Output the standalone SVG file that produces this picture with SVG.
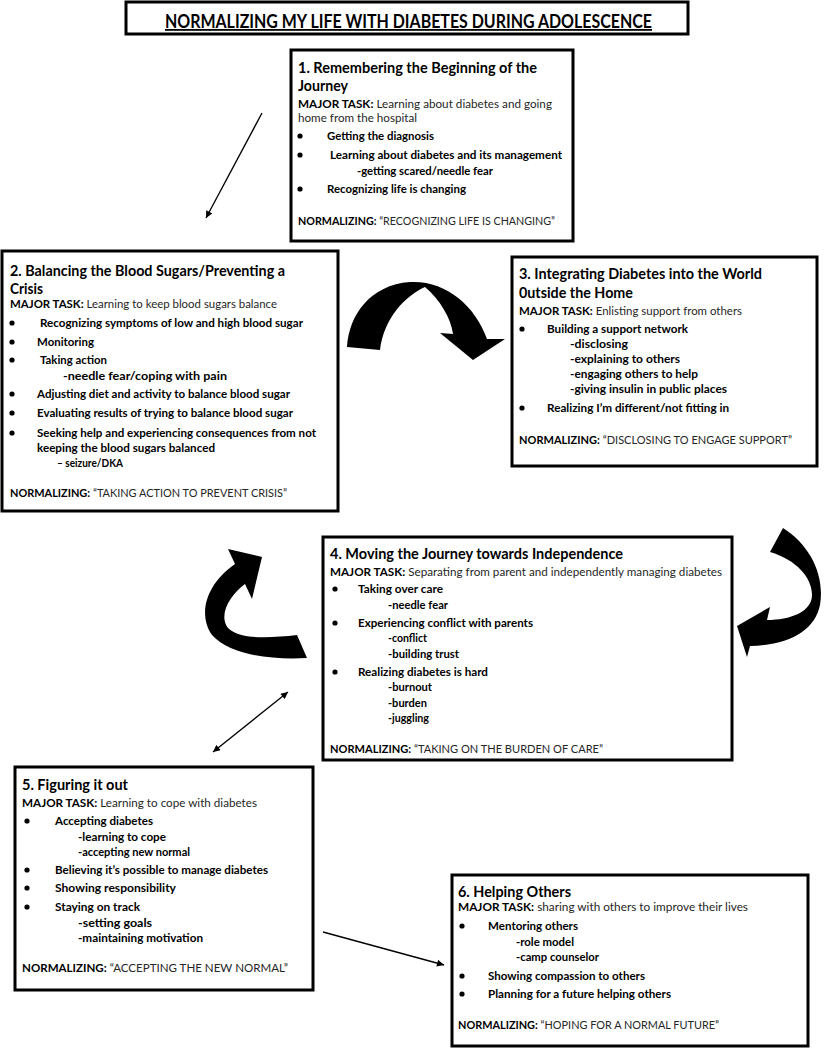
<svg xmlns="http://www.w3.org/2000/svg" width="827" height="1050" viewBox="0 0 827 1050">
<style>
text{font-family:Lato,"Open Sans","Liberation Sans",sans-serif;fill:#000}
.h{font-size:18px;font-weight:bold;text-decoration:underline}
.t{font-size:14.5px;font-weight:bold}
.b{font-size:11.5px;font-weight:bold}
.r{font-weight:normal;fill:#262626}
.box{fill:#fff;stroke:#000;stroke-width:3}
.ln{stroke:#000;stroke-width:1.3;fill:none}
.big{fill:#000}
</style>
<defs>
<marker id="ah" viewBox="0 0 10 10" refX="10" refY="5" markerWidth="8" markerHeight="7" markerUnits="userSpaceOnUse" orient="auto-start-reverse"><path d="M0,0 L10,5 L0,10 z" fill="#000"/></marker>
<circle id="dot" r="2.6" fill="#000"/>
</defs>

<g id="title">
<rect class="box" x="126" y="2" width="562" height="32"/>
<text class="h" x="165" y="28" textLength="487" lengthAdjust="spacingAndGlyphs">NORMALIZING MY LIFE WITH DIABETES DURING ADOLESCENCE</text>
</g>

<g id="connectors">
<line class="ln" x1="262" y1="113" x2="206" y2="218" marker-end="url(#ah)"/>
<line class="ln" x1="288" y1="692" x2="213" y2="752" marker-start="url(#ah)" marker-end="url(#ah)"/>
<line class="ln" x1="323" y1="932" x2="444" y2="965" marker-end="url(#ah)"/>
<path class="big" d="M347,347 C349,315 370,285 410,282 C445,280 475,305 487,339 L505,339 L473,360 L440,333 L453,334 C451,318 440,300 425,287 C405,296 384,318 380,350 Z"/>
<path class="big" d="M783,528 C810,545 825,575 820,605 C815,630 790,645 750,646 L747,657 L737,626 L770,607 L767,620 C790,620 812,612 812,595 C812,578 797,560 770,552 Z"/>
<path class="big" d="M307,658 C270,660 230,655 212,635 C198,615 205,585 235,564 L228,549 L262,557 L252,599 L245,584 C230,595 218,615 228,628 C240,640 270,638 297,635 Z"/>
</g>

<g id="node1">
<rect class="box" x="291" y="50" width="282" height="191"/>
<text class="t" x="298" y="73" textLength="239" lengthAdjust="spacingAndGlyphs">1. Remembering the Beginning of the</text>
<text class="t" x="298" y="91" textLength="50" lengthAdjust="spacingAndGlyphs">Journey</text>
<text class="b" x="298" y="108" textLength="254" lengthAdjust="spacingAndGlyphs">MAJOR TASK:<tspan class="r">  Learning about diabetes and going</tspan></text>
<text class="b r" x="298" y="122" textLength="119" lengthAdjust="spacingAndGlyphs">home from the hospital</text>
<use href="#dot" x="300" y="136"/>
<text class="b" x="327" y="140" textLength="107" lengthAdjust="spacingAndGlyphs">Getting the diagnosis</text>
<use href="#dot" x="300" y="155"/>
<text class="b" x="330" y="159" textLength="232" lengthAdjust="spacingAndGlyphs">Learning about diabetes and its management</text>
<text class="b" x="357" y="175" textLength="136" lengthAdjust="spacingAndGlyphs">-getting scared/needle fear</text>
<use href="#dot" x="300" y="189"/>
<text class="b" x="327" y="193" textLength="139" lengthAdjust="spacingAndGlyphs">Recognizing life is changing</text>
<text class="b" x="298" y="225" textLength="257" lengthAdjust="spacingAndGlyphs">NORMALIZING:<tspan class="r"> “RECOGNIZING LIFE IS CHANGING”</tspan></text>
</g>

<g id="node2">
<rect class="box" x="2" y="251" width="336" height="260"/>
<text class="t" x="10" y="276" textLength="275" lengthAdjust="spacingAndGlyphs">2. Balancing the Blood Sugars/Preventing a</text>
<text class="t" x="10" y="294" textLength="33" lengthAdjust="spacingAndGlyphs">Crisis</text>
<text class="b" x="10" y="308" textLength="267" lengthAdjust="spacingAndGlyphs">MAJOR TASK:<tspan class="r"> Learning to keep blood sugars balance</tspan></text>
<use href="#dot" x="12" y="323"/>
<text class="b" x="40" y="327" textLength="263" lengthAdjust="spacingAndGlyphs">Recognizing symptoms of low and high blood sugar</text>
<use href="#dot" x="12" y="342"/>
<text class="b" x="37" y="346" textLength="57" lengthAdjust="spacingAndGlyphs">Monitoring</text>
<use href="#dot" x="12" y="360"/>
<text class="b" x="40" y="364" textLength="67" lengthAdjust="spacingAndGlyphs">Taking action</text>
<text class="b" x="63" y="380" textLength="164" lengthAdjust="spacingAndGlyphs">-needle fear/coping with pain</text>
<use href="#dot" x="12" y="394"/>
<text class="b" x="37" y="398" textLength="253" lengthAdjust="spacingAndGlyphs">Adjusting diet and activity to balance blood sugar</text>
<use href="#dot" x="12" y="413"/>
<text class="b" x="37" y="417" textLength="256" lengthAdjust="spacingAndGlyphs">Evaluating results of trying to balance blood sugar</text>
<use href="#dot" x="12" y="433"/>
<text class="b" x="37" y="437" textLength="279" lengthAdjust="spacingAndGlyphs">Seeking help and experiencing consequences from not</text>
<text class="b" x="37" y="452" textLength="178" lengthAdjust="spacingAndGlyphs">keeping the blood sugars balanced</text>
<text class="b" x="57" y="467" textLength="66" lengthAdjust="spacingAndGlyphs">– seizure/DKA</text>
<text class="b" x="10" y="497" textLength="277" lengthAdjust="spacingAndGlyphs">NORMALIZING:<tspan class="r"> “TAKING ACTION TO PREVENT CRISIS”</tspan></text>
</g>

<g id="node3">
<rect class="box" x="512" y="257" width="305" height="209"/>
<text class="t" x="519" y="279" textLength="243" lengthAdjust="spacingAndGlyphs">3. Integrating Diabetes into the World</text>
<text class="t" x="519" y="298" textLength="114" lengthAdjust="spacingAndGlyphs">0utside the Home</text>
<text class="b" x="519" y="315" textLength="223" lengthAdjust="spacingAndGlyphs">MAJOR TASK:<tspan class="r"> Enlisting support from others</tspan></text>
<use href="#dot" x="522" y="329"/>
<text class="b" x="547" y="333" textLength="141" lengthAdjust="spacingAndGlyphs">Building a support network</text>
<text class="b" x="570" y="348" textLength="58" lengthAdjust="spacingAndGlyphs">-disclosing</text>
<text class="b" x="570" y="363" textLength="110" lengthAdjust="spacingAndGlyphs">-explaining to others</text>
<text class="b" x="570" y="378" textLength="128" lengthAdjust="spacingAndGlyphs">-engaging others to help</text>
<text class="b" x="570" y="393" textLength="157" lengthAdjust="spacingAndGlyphs">-giving insulin in public places</text>
<use href="#dot" x="522" y="408"/>
<text class="b" x="547" y="412" textLength="182" lengthAdjust="spacingAndGlyphs">Realizing I’m different/not fitting in</text>
<text class="b" x="519" y="444" textLength="273" lengthAdjust="spacingAndGlyphs">NORMALIZING:<tspan class="r">  “DISCLOSING TO ENGAGE SUPPORT”</tspan></text>
</g>

<g id="node4">
<rect class="box" x="323" y="537" width="409" height="223"/>
<text class="t" x="330" y="559" textLength="293" lengthAdjust="spacingAndGlyphs">4. Moving the Journey towards Independence</text>
<text class="b" x="330" y="576" textLength="392" lengthAdjust="spacingAndGlyphs">MAJOR TASK:<tspan class="r"> Separating from parent and independently managing diabetes</tspan></text>
<use href="#dot" x="335" y="589"/>
<text class="b" x="358" y="593" textLength="85" lengthAdjust="spacingAndGlyphs">Taking over care</text>
<text class="b" x="388" y="609" textLength="60" lengthAdjust="spacingAndGlyphs">-needle fear</text>
<use href="#dot" x="335" y="623"/>
<text class="b" x="358" y="627" textLength="175" lengthAdjust="spacingAndGlyphs">Experiencing conflict with parents</text>
<text class="b" x="388" y="642" textLength="39" lengthAdjust="spacingAndGlyphs">-conflict</text>
<text class="b" x="388" y="658" textLength="71" lengthAdjust="spacingAndGlyphs">-building trust</text>
<use href="#dot" x="335" y="672"/>
<text class="b" x="358" y="676" textLength="130" lengthAdjust="spacingAndGlyphs">Realizing diabetes is hard</text>
<text class="b" x="388" y="691" textLength="44" lengthAdjust="spacingAndGlyphs">-burnout</text>
<text class="b" x="388" y="707" textLength="39" lengthAdjust="spacingAndGlyphs">-burden</text>
<text class="b" x="388" y="722" textLength="41" lengthAdjust="spacingAndGlyphs">-juggling</text>
<text class="b" x="330" y="753" textLength="273" lengthAdjust="spacingAndGlyphs">NORMALIZING:<tspan class="r">   “TAKING ON THE BURDEN OF CARE”</tspan></text>
</g>

<g id="node5">
<rect class="box" x="15" y="767" width="298" height="223"/>
<text class="t" x="22" y="790" textLength="106" lengthAdjust="spacingAndGlyphs">5. Figuring it out</text>
<text class="b" x="22" y="807" textLength="235" lengthAdjust="spacingAndGlyphs">MAJOR TASK:<tspan class="r">  Learning to cope with diabetes</tspan></text>
<use href="#dot" x="27" y="821"/>
<text class="b" x="55" y="825" textLength="98" lengthAdjust="spacingAndGlyphs">Accepting diabetes</text>
<text class="b" x="78" y="841" textLength="88" lengthAdjust="spacingAndGlyphs">-learning to cope</text>
<text class="b" x="78" y="856" textLength="112" lengthAdjust="spacingAndGlyphs">-accepting new normal</text>
<use href="#dot" x="27" y="870"/>
<text class="b" x="55" y="874" textLength="213" lengthAdjust="spacingAndGlyphs">Believing it’s possible to manage diabetes</text>
<use href="#dot" x="27" y="888"/>
<text class="b" x="55" y="892" textLength="121" lengthAdjust="spacingAndGlyphs">Showing responsibility</text>
<use href="#dot" x="27" y="907"/>
<text class="b" x="55" y="911" textLength="85" lengthAdjust="spacingAndGlyphs">Staying on track</text>
<text class="b" x="78" y="927" textLength="74" lengthAdjust="spacingAndGlyphs">-setting goals</text>
<text class="b" x="78" y="942" textLength="125" lengthAdjust="spacingAndGlyphs">-maintaining motivation</text>
<text class="b" x="22" y="972" textLength="266" lengthAdjust="spacingAndGlyphs">NORMALIZING:<tspan class="r">  “ACCEPTING THE NEW NORMAL”</tspan></text>
</g>

<g id="node6">
<rect class="box" x="452" y="875" width="356" height="171"/>
<text class="t" x="458" y="897" textLength="113" lengthAdjust="spacingAndGlyphs">6. Helping Others</text>
<text class="b" x="458" y="911" textLength="290" lengthAdjust="spacingAndGlyphs">MAJOR TASK:<tspan class="r">  sharing with others to improve their lives</tspan></text>
<use href="#dot" x="462" y="926"/>
<text class="b" x="488" y="930" textLength="90" lengthAdjust="spacingAndGlyphs">Mentoring others</text>
<text class="b" x="516" y="946" textLength="58" lengthAdjust="spacingAndGlyphs">-role model</text>
<text class="b" x="516" y="961" textLength="83" lengthAdjust="spacingAndGlyphs">-camp counselor</text>
<use href="#dot" x="462" y="976"/>
<text class="b" x="488" y="980" textLength="157" lengthAdjust="spacingAndGlyphs">Showing compassion to others</text>
<use href="#dot" x="462" y="994"/>
<text class="b" x="488" y="998" textLength="183" lengthAdjust="spacingAndGlyphs">Planning for a future helping others</text>
<text class="b" x="458" y="1029" textLength="261" lengthAdjust="spacingAndGlyphs">NORMALIZING:<tspan class="r"> “HOPING FOR A NORMAL FUTURE”</tspan></text>
</g>
</svg>
